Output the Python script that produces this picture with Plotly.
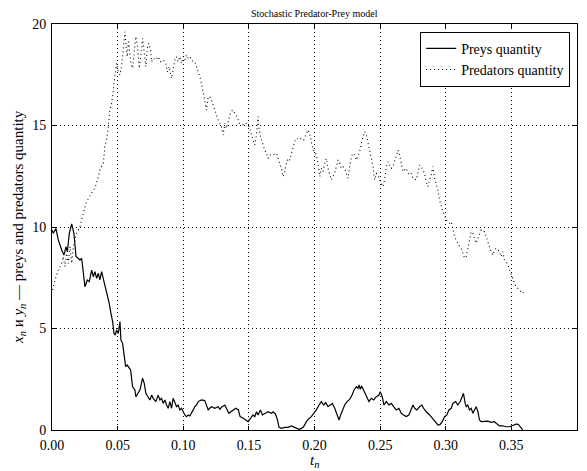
import plotly.graph_objects as go

# Simulated trajectory of the stochastic predator-prey system
prey_t = [
    0.0000, 0.0010, 0.0030, 0.0048, 0.0074, 0.0091, 0.0107, 0.0117, 0.0132, 0.0150,
    0.0167, 0.0183, 0.0200, 0.0213, 0.0226, 0.0238, 0.0251, 0.0269, 0.0284, 0.0302,
    0.0315, 0.0327, 0.0340, 0.0353, 0.0365, 0.0378, 0.0391, 0.0403, 0.0421, 0.0436,
    0.0449, 0.0462, 0.0472, 0.0482, 0.0492, 0.0505, 0.0518, 0.0525, 0.0538, 0.0548,
    0.0561, 0.0573, 0.0589, 0.0599, 0.0614, 0.0632, 0.0639, 0.0657, 0.0670, 0.0690,
    0.0703, 0.0715, 0.0733, 0.0746, 0.0759, 0.0771, 0.0791, 0.0809, 0.0822, 0.0835,
    0.0847, 0.0860, 0.0873, 0.0885, 0.0898, 0.0911, 0.0923, 0.0936, 0.0949, 0.0961,
    0.0974, 0.0987, 0.0999, 0.1012, 0.1025, 0.1038, 0.1050, 0.1063, 0.1076, 0.1088,
    0.1101, 0.1114, 0.1139, 0.1164, 0.1177, 0.1190, 0.1202, 0.1215, 0.1240, 0.1266,
    0.1279, 0.1291, 0.1317, 0.1329, 0.1347,
    0.1400, 0.1420, 0.1433, 0.1458,
    0.1494, 0.1507, 0.1532, 0.1545, 0.1558, 0.1570, 0.1588, 0.1603, 0.1621, 0.1646,
    0.1672, 0.1684, 0.1702, 0.1715, 0.1730, 0.1748, 0.1773, 0.1799, 0.1824, 0.1849,
    0.1867, 0.1882, 0.1900, 0.1913, 0.1925, 0.1938, 0.1958, 0.1976, 0.1994, 0.2014,
    0.2035, 0.2052, 0.2070, 0.2085, 0.2103, 0.2121, 0.2136, 0.2154, 0.2172, 0.2187,
    0.2199, 0.2212, 0.2230, 0.2248, 0.2268, 0.2286, 0.2301, 0.2319, 0.2331, 0.2339,
    0.2349, 0.2359, 0.2374, 0.2390, 0.2402, 0.2415, 0.2433, 0.2451, 0.2471, 0.2491,
    0.2501, 0.2516, 0.2529, 0.2547, 0.2567, 0.2585, 0.2603, 0.2623, 0.2643, 0.2661,
    0.2679, 0.2699, 0.2719, 0.2737, 0.2750, 0.2763, 0.2780, 0.2801, 0.2818, 0.2831,
    0.2851, 0.2877, 0.2897, 0.2915, 0.2940,
    0.2955, 0.2973, 0.2991, 0.3009, 0.3024, 0.3042, 0.3054, 0.3075, 0.3092, 0.3110,
    0.3125, 0.3135, 0.3148, 0.3156, 0.3168, 0.3181, 0.3194, 0.3207, 0.3219, 0.3232,
    0.3245, 0.3257, 0.3270, 0.3295, 0.3321, 0.3346, 0.3371, 0.3384, 0.3409, 0.3435,
    0.3460, 0.3486, 0.3506, 0.3524, 0.3541, 0.3557, 0.3574, 0.3587,
]
prey_n = [
    9.85, 9.69, 9.93, 9.36, 8.87, 8.62, 9.03, 8.78, 9.69, 10.15,
    9.69, 8.54, 8.46, 8.37, 8.46, 7.72, 7.06, 7.39, 7.31, 7.88,
    7.55, 7.80, 7.47, 7.72, 7.39, 7.80, 7.47, 7.06, 6.73, 6.24,
    5.75, 5.34, 4.76, 4.68, 4.93, 4.76, 5.34, 4.43, 4.27, 3.78,
    3.12, 3.20, 3.04, 2.96, 2.13, 1.97, 1.64, 1.81, 1.97, 2.55,
    2.30, 1.81, 1.64, 1.48, 1.72, 1.56, 1.40, 1.72, 1.48, 1.56,
    1.31, 1.48, 1.23, 1.07, 1.40, 1.07, 1.56, 1.31, 1.15, 1.23,
    0.99, 1.07, 0.90, 0.74, 0.66, 0.74, 0.69, 0.82, 0.99, 1.15,
    1.23, 1.40, 1.48, 1.45, 1.23, 0.99, 1.07, 1.15, 1.07, 1.15,
    1.02, 1.12, 1.23, 1.07, 0.82,
    1.07, 0.99, 0.66, 0.58,
    0.41, 0.53, 0.74, 0.66, 0.90, 0.74, 0.99, 0.74, 0.82, 0.90,
    0.82, 0.90, 0.79, 0.57, 0.13, 0.08, 0.13, 0.13, 0.20, 0.13,
    0.08, 0.03, 0.08, 0.13, 0.25, 0.41, 0.57, 0.66, 0.82, 0.99,
    1.23, 1.40, 1.23, 1.35, 1.15, 1.23, 1.31, 1.07, 0.74, 0.49,
    0.74, 0.99, 1.23, 1.40, 1.51, 1.72, 1.97, 2.13, 2.05, 2.22,
    2.00, 2.17, 1.97, 1.81, 1.64, 1.40, 1.56, 1.48, 1.64, 1.72,
    1.89, 1.64, 1.23, 1.40, 1.23, 1.31, 1.15, 0.99, 1.07, 0.82,
    0.74, 0.66, 0.74, 0.99, 1.23, 1.07, 0.99, 1.15, 1.23, 1.07,
    0.90, 0.74, 0.57, 0.41, 0.25,
    0.25, 0.41, 0.66, 0.74, 0.99, 1.07, 1.31, 1.40, 1.23, 1.40,
    1.64, 1.81, 1.31, 1.15, 1.23, 0.99, 1.07, 0.82, 0.99, 1.15,
    0.90, 0.49, 0.41, 0.41, 0.44, 0.38, 0.41, 0.33, 0.20, 0.21,
    0.16, 0.16, 0.20, 0.25, 0.30, 0.25, 0.08, 0.00,
]

pred_t = [
    0.0005, 0.0023, 0.0048, 0.0074, 0.0086, 0.0099, 0.0112, 0.0124, 0.0137, 0.0150,
    0.0162, 0.0175, 0.0188, 0.0213, 0.0226, 0.0238, 0.0259, 0.0271, 0.0284, 0.0302,
    0.0315, 0.0327, 0.0340, 0.0353, 0.0365, 0.0378, 0.0391, 0.0403, 0.0416, 0.0429,
    0.0441, 0.0454, 0.0462, 0.0472, 0.0482, 0.0492, 0.0505, 0.0518, 0.0530, 0.0543,
    0.0556, 0.0563, 0.0573, 0.0583, 0.0599, 0.0614, 0.0624, 0.0639, 0.0652, 0.0665,
    0.0675, 0.0690, 0.0703, 0.0715, 0.0726, 0.0736, 0.0751, 0.0759, 0.0771, 0.0791,
    0.0809, 0.0827, 0.0847, 0.0868, 0.0878, 0.0893, 0.0911, 0.0923, 0.0936, 0.0949,
    0.0961, 0.0974, 0.0987, 0.0999, 0.1012, 0.1025, 0.1038, 0.1050, 0.1063, 0.1076,
    0.1088, 0.1101, 0.1114, 0.1126, 0.1139, 0.1152, 0.1164, 0.1177, 0.1190, 0.1202,
    0.1215, 0.1228, 0.1240, 0.1253, 0.1266, 0.1279, 0.1291, 0.1304, 0.1317, 0.1329,
    0.1347,
    0.1360, 0.1375, 0.1393, 0.1410, 0.1426, 0.1443, 0.1461, 0.1481, 0.1502, 0.1520,
    0.1532, 0.1545, 0.1558, 0.1570, 0.1578, 0.1596, 0.1608, 0.1621, 0.1634, 0.1646,
    0.1659, 0.1684, 0.1710, 0.1722, 0.1735, 0.1748, 0.1760, 0.1773, 0.1786, 0.1799,
    0.1811, 0.1824, 0.1837, 0.1849, 0.1862, 0.1882, 0.1900, 0.1918, 0.1933, 0.1951,
    0.1963, 0.1976, 0.1989, 0.2002, 0.2014, 0.2027, 0.2040, 0.2052, 0.2065, 0.2078,
    0.2090, 0.2103, 0.2116, 0.2128, 0.2141, 0.2154, 0.2166, 0.2179, 0.2192, 0.2204,
    0.2217, 0.2230, 0.2243, 0.2255, 0.2268, 0.2281, 0.2293, 0.2306, 0.2319, 0.2331,
    0.2344, 0.2357, 0.2369, 0.2382, 0.2395, 0.2407, 0.2420, 0.2433, 0.2446, 0.2458,
    0.2471, 0.2484, 0.2496, 0.2509, 0.2522, 0.2534, 0.2547, 0.2560, 0.2572, 0.2585,
    0.2598, 0.2610, 0.2623, 0.2636,
    0.2648, 0.2661, 0.2674, 0.2686, 0.2699, 0.2712, 0.2725, 0.2737, 0.2750, 0.2775,
    0.2788, 0.2801, 0.2813, 0.2826, 0.2839, 0.2851, 0.2864, 0.2877, 0.2889, 0.2902,
    0.2915, 0.2927, 0.2940, 0.2953, 0.2966, 0.2978, 0.2991, 0.3004, 0.3016, 0.3029,
    0.3042, 0.3054, 0.3067, 0.3080, 0.3092, 0.3105, 0.3118, 0.3130, 0.3143, 0.3156,
    0.3168, 0.3181, 0.3194, 0.3207, 0.3219, 0.3232, 0.3245, 0.3257, 0.3270, 0.3283,
    0.3295, 0.3308, 0.3321, 0.3333, 0.3346, 0.3359, 0.3371, 0.3384, 0.3397, 0.3409,
    0.3422, 0.3435, 0.3447, 0.3460, 0.3473, 0.3486, 0.3498, 0.3511, 0.3524, 0.3536,
    0.3562, 0.3574, 0.3587, 0.3600,
]
pred_n = [
    6.90, 7.39, 7.88, 8.21, 8.54, 8.05, 8.70, 8.21, 9.03, 8.21,
    9.03, 9.36, 9.69, 10.02, 10.34, 10.67, 11.17, 11.33, 11.49, 11.66,
    11.82, 11.91, 12.15, 12.48, 12.81, 12.97, 13.14, 13.96, 14.29, 14.94,
    15.76, 16.09, 16.42, 17.08, 17.73, 18.06, 17.65, 17.49, 17.90, 18.72,
    19.62, 19.05, 18.39, 19.21, 18.14, 17.82, 18.56, 19.38, 18.88, 17.82,
    18.31, 19.29, 18.56, 17.90, 18.80, 19.05, 18.72, 18.14, 18.31, 18.23,
    18.39, 18.14, 18.23, 18.06, 17.65, 17.90, 17.32, 17.73, 18.23, 18.39,
    18.14, 18.39, 18.06, 18.39, 18.23, 18.47, 18.31, 18.39, 18.23, 18.14,
    18.14, 17.90, 17.65, 17.41, 17.08, 16.67, 16.26, 15.76, 16.42, 16.42,
    16.26, 16.01, 15.76, 15.43, 15.27, 15.11, 14.94, 14.53, 15.11, 14.86,
    15.27,
    15.60, 15.76, 15.60, 15.44, 15.11, 15.11, 15.02, 15.11, 14.94, 14.61,
    14.29, 14.04, 14.53, 15.44, 14.78, 14.29, 14.04, 13.79, 13.63, 13.38,
    13.55, 13.55, 13.63, 13.38, 13.14, 12.89, 12.48, 12.73, 13.14, 13.38,
    13.30, 13.63, 13.96, 14.20, 14.37, 14.29, 14.37, 14.29, 14.53, 14.78,
    14.61, 14.20, 13.79, 13.71, 13.55, 13.14, 12.48, 12.89, 12.73, 13.14,
    13.38, 12.89, 12.56, 12.32, 12.48, 12.64, 12.97, 13.30, 13.14, 12.89,
    12.97, 12.89, 12.64, 12.40, 12.97, 13.46, 13.63, 13.55, 13.30, 13.55,
    13.71, 14.12, 14.37, 14.70, 14.53, 14.20, 13.88, 13.38, 12.97, 12.32,
    12.64, 12.56, 12.32, 12.15, 11.99, 12.32, 12.97, 13.22, 13.05, 12.89,
    12.97, 13.22, 13.55, 13.79,
    13.55, 13.14, 12.73, 12.81, 12.89, 12.64, 12.56, 12.64, 12.40, 12.32,
    12.64, 13.05, 12.97, 12.81, 12.64, 12.23, 11.99, 12.32, 12.56, 12.97,
    12.40, 12.15, 11.82, 11.33, 11.00, 10.75, 10.59, 10.34, 10.26, 10.18,
    10.26, 9.94, 9.52, 9.36, 9.20, 9.03, 8.95, 8.70, 8.46, 8.54,
    8.87, 9.36, 9.77, 9.69, 9.44, 9.20, 9.44, 9.69, 9.85, 9.77,
    9.77, 9.52, 9.20, 9.03, 8.78, 8.62, 8.87, 8.95, 8.87, 8.78,
    8.54, 8.78, 8.37, 8.29, 8.13, 7.88, 7.64, 7.47, 7.22, 7.06,
    6.90, 6.81, 6.73, 6.90,
]

x_ticks = [0.00, 0.05, 0.10, 0.15, 0.20, 0.25, 0.30, 0.35, 0.40]
y_ticks = [0, 5, 10, 15, 20]

SERIF = "Liberation Serif, Times New Roman, serif"

fig = go.Figure()
fig.add_trace(go.Scatter(
    x=prey_t, y=prey_n, mode="lines", name="Preys quantity",
    line=dict(color="black", width=1.2),
))
fig.add_trace(go.Scatter(
    x=pred_t, y=pred_n, mode="lines", name="Predators quantity",
    line=dict(color="black", width=1.1, dash="1px,3px"),
))

axis_style = dict(
    showline=True, linecolor="black", linewidth=1, mirror="ticks",
    ticks="inside", ticklen=4, tickwidth=1, tickcolor="black",
    showgrid=True, gridcolor="black", gridwidth=1, griddash="1px,3px",
    zeroline=False,
    tickfont=dict(family=SERIF, size=14, color="black"),
)
fig.update_xaxes(range=[0, 0.4], tickvals=x_ticks,
                 ticktext=[f"{v:.2f}" for v in x_ticks],
                 ticklabelstandoff=2, **axis_style)
fig.update_yaxes(range=[0, 20], tickvals=y_ticks,
                 ticktext=[str(v) for v in y_ticks],
                 ticklabelstandoff=2, **axis_style)

fig.update_layout(
    width=587, height=471,
    margin=dict(l=52, r=10, t=24, b=41),
    paper_bgcolor="white", plot_bgcolor="white",
    font=dict(family=SERIF, color="black"),
    showlegend=True,
    legend=dict(
        x=0.987, y=0.981, xanchor="right", yanchor="top",
        bgcolor="white", bordercolor="black", borderwidth=1,
        font=dict(family=SERIF, size=14, color="black"),
        itemwidth=30, tracegroupgap=0,
    ),
    annotations=[
        dict(text="Stochastic Predator-Prey model", xref="paper", yref="paper",
             x=0.5, y=1, xanchor="center", yanchor="bottom", yshift=3,
             showarrow=False, font=dict(family=SERIF, size=10, color="black")),
        dict(text="<i>t<sub>n</sub></i>", xref="paper", yref="paper",
             x=0.5, y=0, xanchor="center", yanchor="middle", yshift=-31,
             showarrow=False, font=dict(family=SERIF, size=15, color="black")),
        dict(text="<i>x<sub>n</sub></i> и <i>y<sub>n</sub></i> — preys and predators quantity",
             xref="paper", yref="paper", x=0, y=0.5, xanchor="center",
             yanchor="middle", xshift=-33, textangle=-90,
             showarrow=False, font=dict(family=SERIF, size=15, color="black")),
    ],
)

fig.write_html("out.html")
